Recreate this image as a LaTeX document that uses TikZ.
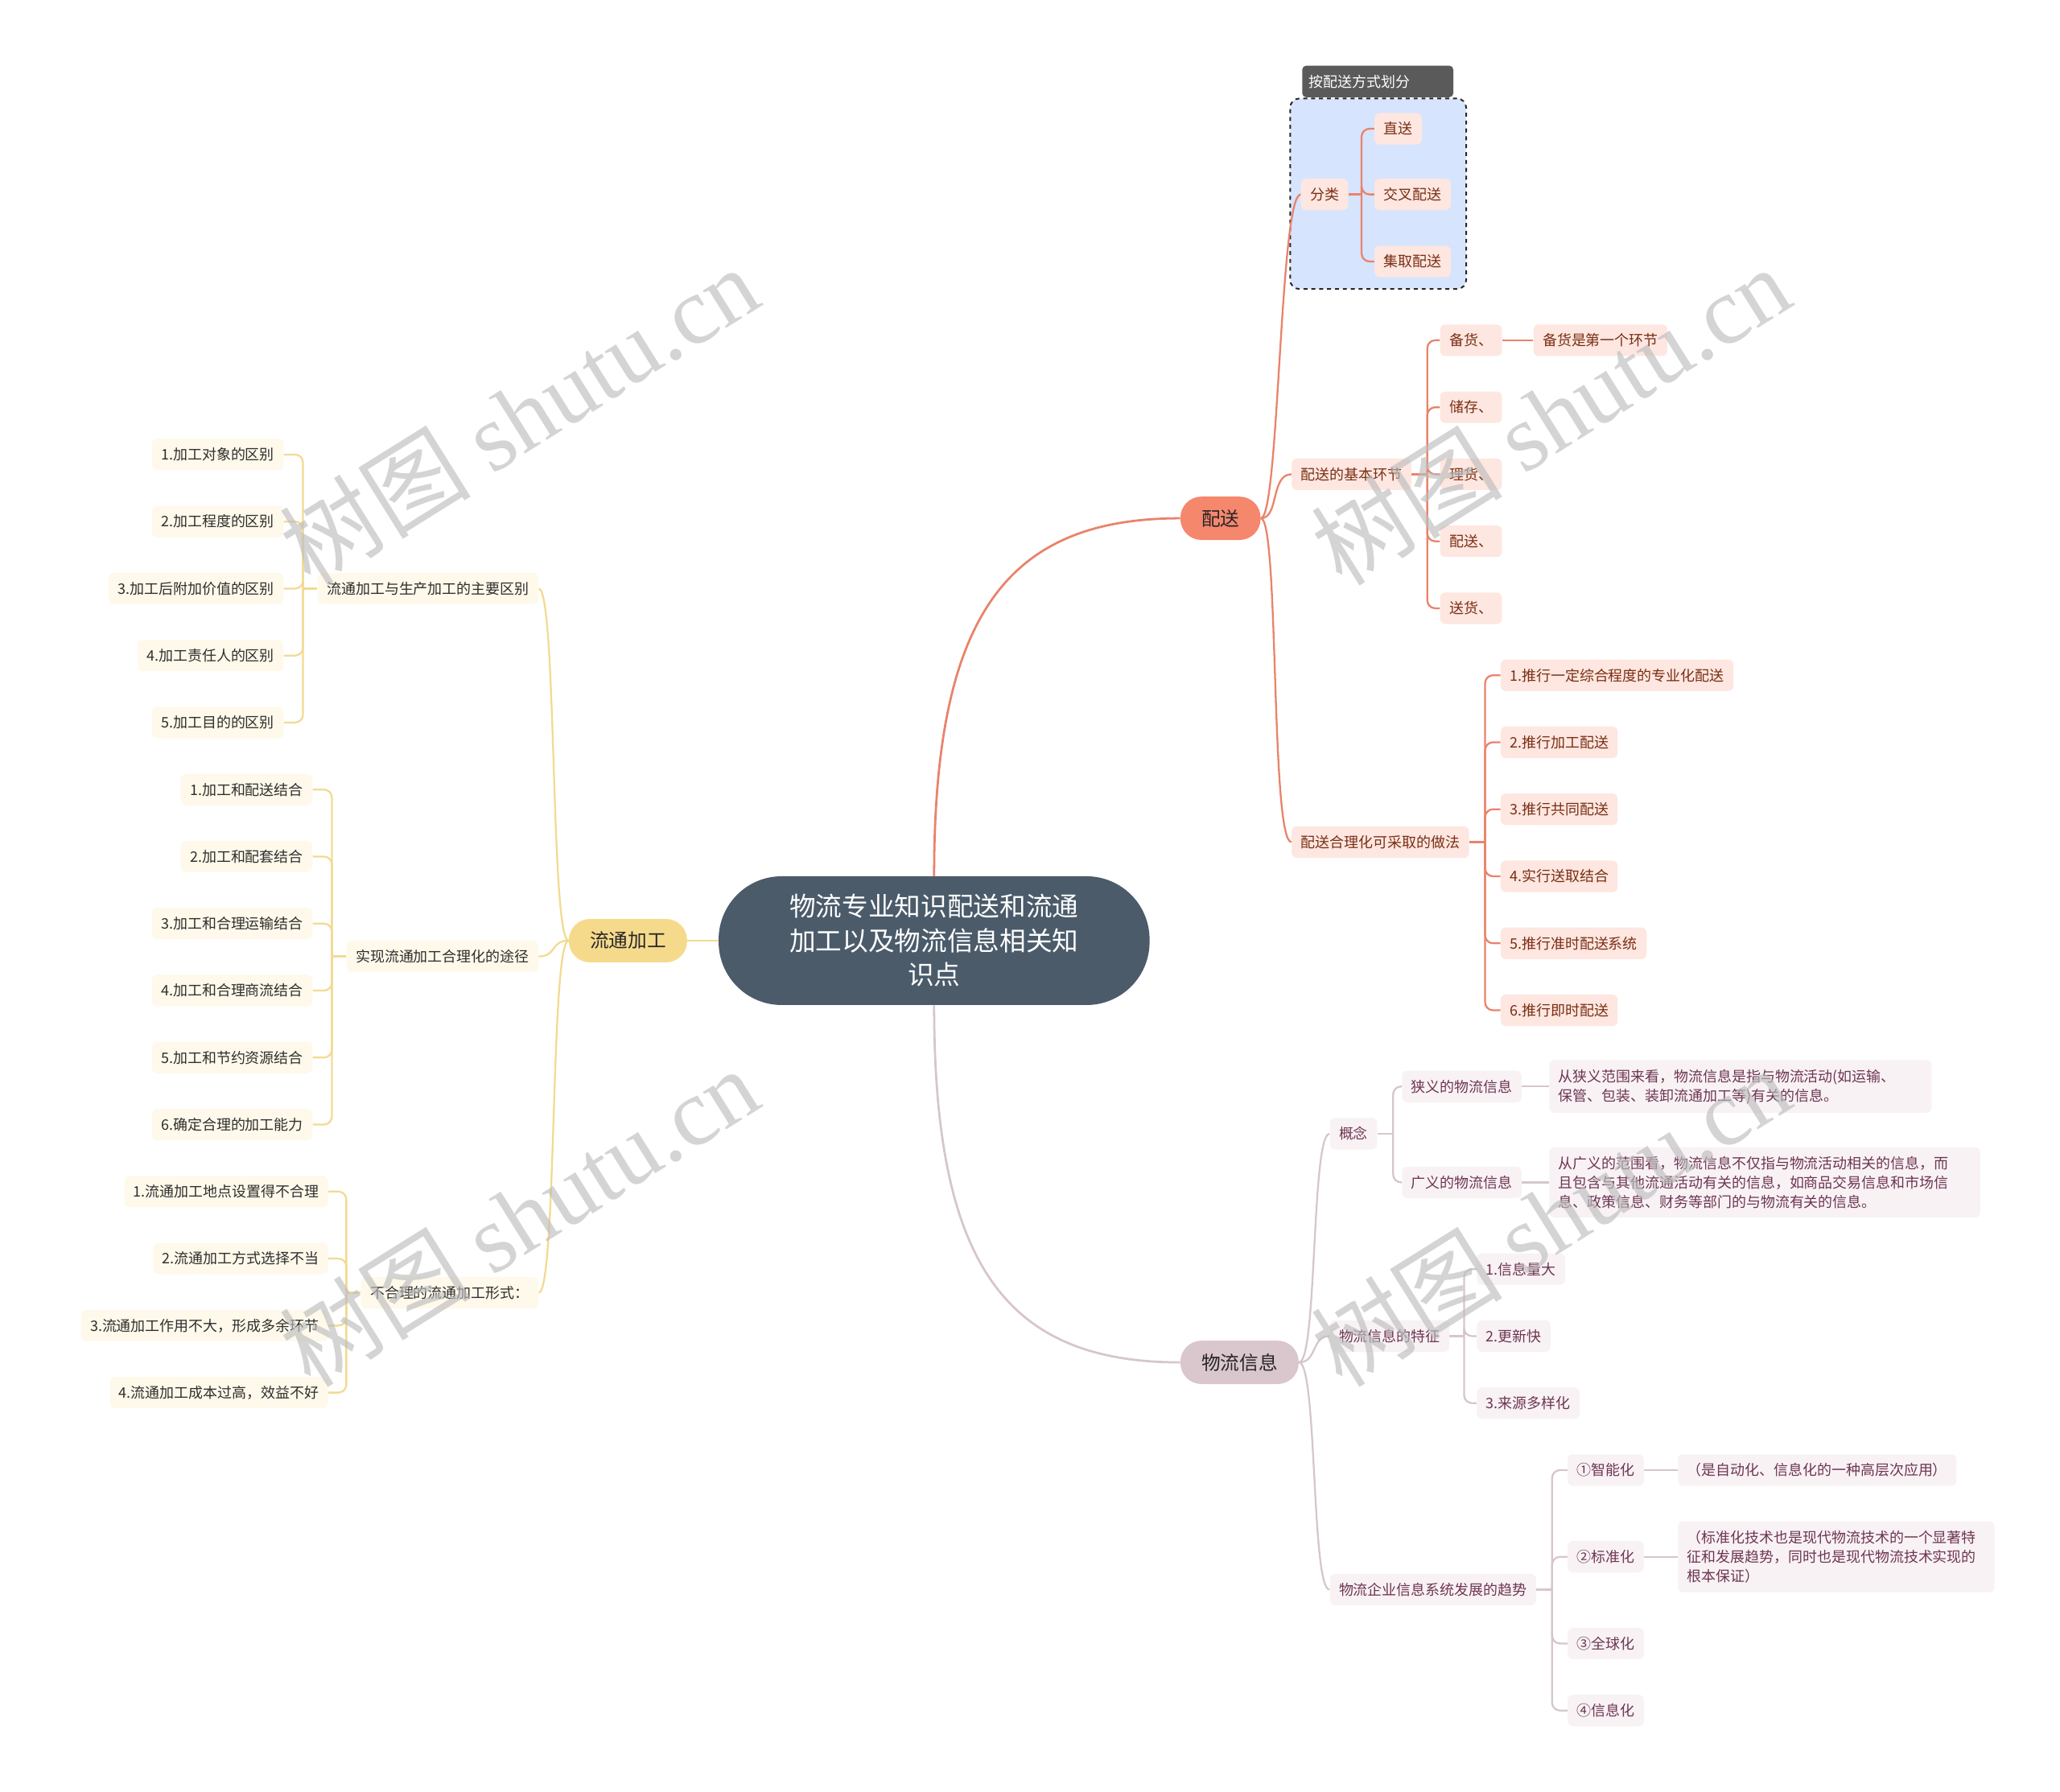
\documentclass[tikz,border=0pt]{standalone}
\usepackage{fontspec}
\setmainfont{Noto Sans CJK SC}
\newfontfamily\wmlatin{Liberation Serif}
\definecolor{centfill}{HTML}{4B5B6A}
\definecolor{psfill}{HTML}{F5876D}
\definecolor{ltfill}{HTML}{F6DA8C}
\definecolor{wlfill}{HTML}{DAC6CD}
\definecolor{pkfill}{HTML}{FDE7E0}
\definecolor{pktext}{HTML}{7A2E14}
\definecolor{pkline}{HTML}{E9836B}
\definecolor{ylfill}{HTML}{FEF9EA}
\definecolor{yltext}{HTML}{2E2E2E}
\definecolor{ylline}{HTML}{F3DA92}
\definecolor{mvfill}{HTML}{F8F2F4}
\definecolor{mvtext}{HTML}{6E3553}
\definecolor{mvline}{HTML}{D6C6CC}
\definecolor{grpfill}{HTML}{D6E4FE}
\definecolor{labfill}{HTML}{5A5A5A}
\definecolor{wmcol}{HTML}{BDBDBD}
\pgfdeclarelayer{back}
\pgfsetlayers{back,main}
\tikzset{
  leaf/.style={rounded corners=4pt, inner xsep=7pt, inner ysep=0pt, minimum height=24pt, font=\fontsize{11}{13}\selectfont},
  pkn/.style={leaf, fill=pkfill, text=pktext},
  yln/.style={leaf, fill=ylfill, text=yltext},
  mvn/.style={leaf, fill=mvfill, text=mvtext},
  para/.style={align=left, inner ysep=7pt, font=\fontsize{11}{14.7}\selectfont},
  pkl/.style={draw=pkline, line width=1.4pt},
  yll/.style={draw=ylline, line width=1.4pt},
  mvl/.style={draw=mvline, line width=1.4pt},
  elbow/.style={rounded corners=6pt},
  topic/.style={rounded corners=16pt, minimum height=33pt, inner xsep=16pt, inner ysep=0pt, font=\fontsize{14.5}{17}\selectfont, text=black!85},
  rootnode/.style={fill=centfill, text=white, rounded corners=48pt, minimum width=328pt, minimum height=98pt, align=center, font=\fontsize{20}{26}\selectfont},
  wm/.style={text=wmcol, text opacity=0.65, rotate=32, font=\fontsize{73}{75}\selectfont},
}
\begin{document}
\begin{tikzpicture}[x=1pt,y=-1pt]
\useasboundingbox (0,0) rectangle (1568,1364);

% ---------- root and main topics ----------
\node[rootnode] (root) at (711,716) {物流专业知识配送和流通\\加工以及物流信息相关知\\识点};
\node[topic, fill=psfill] (ps) at (929,394.5) {配送};
\node[topic, fill=ltfill] (lt) at (478,716) {流通加工};
\node[topic, fill=wlfill] (wl) at (943.5,1037) {物流信息};

% ---------- 配送 subtree ----------
\begin{pgfonlayer}{back}
\node (grp) [draw=black!85, dashed, line width=1.2pt, fill=grpfill, rounded corners=7pt, minimum width=134pt, minimum height=145pt] at (1049,147.5) {};
\end{pgfonlayer}
\node (glab) [fill=labfill, text=white, rounded corners=3pt, minimum height=24pt, inner xsep=5pt, inner ysep=0pt, text width=105pt, align=left, anchor=west, font=\fontsize{11}{13}\selectfont] at (991,62) {按配送方式划分};

\node[pkn, anchor=west] (fl) at (990,148) {分类};
\node[pkn, anchor=west] (zs) at (1046,98) {直送};
\node[pkn, anchor=west] (jc) at (1046,148) {交叉配送};
\node[pkn, anchor=west] (jq) at (1046,199) {集取配送};

\node[pkn, anchor=west] (jbhj) at (983,361) {配送的基本环节};
\node[pkn, anchor=west] (bh1) at (1096,259) {备货、};
\node[pkn, anchor=west] (cc) at (1096,310) {储存、};
\node[pkn, anchor=west] (lh) at (1096,361) {理货、};
\node[pkn, anchor=west] (pst) at (1096,412) {配送、};
\node[pkn, anchor=west] (sh) at (1096,463) {送货、};
\node[pkn, anchor=west] (bhd) at (1167,259) {备货是第一个环节};

\node[pkn, anchor=west] (hlh) at (983,641) {配送合理化可采取的做法};
\node[pkn, anchor=west] (h1) at (1142,514) {1.推行一定综合程度的专业化配送};
\node[pkn, anchor=west] (h2) at (1142,565) {2.推行加工配送};
\node[pkn, anchor=west] (h3) at (1142,616) {3.推行共同配送};
\node[pkn, anchor=west] (h4) at (1142,667) {4.实行送取结合};
\node[pkn, anchor=west] (h5) at (1142,718) {5.推行准时配送系统};
\node[pkn, anchor=west] (h6) at (1142,769) {6.推行即时配送};

% ---------- 流通加工 subtree ----------
\node[yln, anchor=east] (qb) at (410,448) {流通加工与生产加工的主要区别};
\node[yln, anchor=east] (qb1) at (216,346) {1.加工对象的区别};
\node[yln, anchor=east] (qb2) at (216,397) {2.加工程度的区别};
\node[yln, anchor=east] (qb3) at (216,448) {3.加工后附加价值的区别};
\node[yln, anchor=east] (qb4) at (216,499) {4.加工责任人的区别};
\node[yln, anchor=east] (qb5) at (216,550) {5.加工目的的区别};

\node[yln, anchor=east] (sx) at (410,728) {实现流通加工合理化的途径};
\node[yln, anchor=east] (sx1) at (238,601) {1.加工和配送结合};
\node[yln, anchor=east] (sx2) at (238,652) {2.加工和配套结合};
\node[yln, anchor=east] (sx3) at (238,703) {3.加工和合理运输结合};
\node[yln, anchor=east] (sx4) at (238,754) {4.加工和合理商流结合};
\node[yln, anchor=east] (sx5) at (238,805) {5.加工和节约资源结合};
\node[yln, anchor=east] (sx6) at (238,856) {6.确定合理的加工能力};

\node[yln, anchor=east] (bhl) at (410,984) {不合理的流通加工形式：};
\node[yln, anchor=east] (bl1) at (250,907) {1.流通加工地点设置得不合理};
\node[yln, anchor=east] (bl2) at (250,958) {2.流通加工方式选择不当};
\node[yln, anchor=east] (bl3) at (250,1009) {3.流通加工作用不大，形成多余环节};
\node[yln, anchor=east] (bl4) at (250,1060) {4.流通加工成本过高，效益不好};

% ---------- 物流信息 subtree ----------
\node[mvn, anchor=west] (gn) at (1012,863) {概念};
\node[mvn, anchor=west] (xy) at (1067,827) {狭义的物流信息};
\node[mvn, anchor=west] (gy) at (1067,900) {广义的物流信息};
\node[mvn, para, anchor=west, text width=277pt] (xyd) at (1179,827) {从狭义范围来看，物流信息是指与物流活动(如运输、\\保管、包装、装卸流通加工等)有关的信息。};
\node[mvn, para, anchor=west, text width=314pt] (gyd) at (1179,900) {从广义的范围看，物流信息不仅指与物流活动相关的信息，而\\且包含与其他流通活动有关的信息，如商品交易信息和市场信\\息、政策信息、财务等部门的与物流有关的信息。};

\node[mvn, anchor=west] (tz) at (1012,1017) {物流信息的特征};
\node[mvn, anchor=west] (tz1) at (1124,966) {1.信息量大};
\node[mvn, anchor=west] (tz2) at (1124,1017) {2.更新快};
\node[mvn, anchor=west] (tz3) at (1124,1068) {3.来源多样化};

\node[mvn, anchor=west] (qs) at (1012,1210) {物流企业信息系统发展的趋势};
\node[mvn, anchor=west] (qs1) at (1193,1119) {①智能化};
\node[mvn, anchor=west] (qs2) at (1193,1185) {②标准化};
\node[mvn, anchor=west] (qs3) at (1193,1251) {③全球化};
\node[mvn, anchor=west] (qs4) at (1193,1302) {④信息化};
\node[mvn, anchor=west] (qs1d) at (1277,1119) {（是自动化、信息化的一种高层次应用）};
\node[mvn, para, anchor=west, text width=227pt] (qs2d) at (1277,1185) {（标准化技术也是现代物流技术的一个显著特\\征和发展趋势，同时也是现代物流技术实现的\\根本保证）};

% ---------- connectors ----------
\begin{pgfonlayer}{back}
\draw[pkl, line width=1.7pt] (root.north) .. controls (711,470) and (765,394.5) .. (ps.west);
\draw[mvl, line width=1.7pt] (root.south) .. controls (711,962) and (765,1037) .. (wl.west);
\draw[yll, line width=1.7pt] (root.west) -- (lt.east);

\foreach \c in {fl,jbhj,hlh}
  \draw[pkl] (ps.east) .. controls +(14,0) and +(-16,0) .. (\c.west);
\foreach \c in {qb,sx,bhl}
  \draw[yll] (lt.west) .. controls +(-14,0) and +(14,0) .. (\c.east);
\foreach \c in {gn,tz,qs}
  \draw[mvl] (wl.east) .. controls +(14,0) and +(-14,0) .. (\c.west);

\draw[pkl] (fl.east) -- ++(10,0) coordinate (flT);
\foreach \c in {zs,jc,jq} \draw[pkl, elbow] (flT) |- (\c.west);
\draw[pkl] (jbhj.east) -- ++(12,0) coordinate (jbT);
\foreach \c in {bh1,cc,lh,pst,sh} \draw[pkl, elbow] (jbT) |- (\c.west);
\draw[pkl] (bh1.east) -- (bhd.west);
\draw[pkl] (hlh.east) -- ++(12,0) coordinate (hlT);
\foreach \c in {h1,h2,h3,h4,h5,h6} \draw[pkl, elbow] (hlT) |- (\c.west);

\draw[yll] (qb.west) -- ++(-11,0) coordinate (qbT);
\foreach \c in {qb1,qb2,qb3,qb4,qb5} \draw[yll, elbow] (qbT) |- (\c.east);
\draw[yll] (sx.west) -- ++(-11,0) coordinate (sxT);
\foreach \c in {sx1,sx2,sx3,sx4,sx5,sx6} \draw[yll, elbow] (sxT) |- (\c.east);
\draw[yll] (bhl.west) -- ++(-11,0) coordinate (bhT);
\foreach \c in {bl1,bl2,bl3,bl4} \draw[yll, elbow] (bhT) |- (\c.east);

\draw[mvl] (gn.east) -- ++(12,0) coordinate (gnT);
\foreach \c in {xy,gy} \draw[mvl, elbow] (gnT) |- (\c.west);
\draw[mvl] (xy.east) -- (xyd.west);
\draw[mvl] (gy.east) -- (gyd.west);
\draw[mvl] (tz.east) -- ++(11,0) coordinate (tzT);
\foreach \c in {tz1,tz2,tz3} \draw[mvl, elbow] (tzT) |- (\c.west);
\draw[mvl] (qs.east) -- ++(12,0) coordinate (qsT);
\foreach \c in {qs1,qs2,qs3,qs4} \draw[mvl, elbow] (qsT) |- (\c.west);
\draw[mvl] (qs1.east) -- (qs1d.west);
\draw[mvl] (qs2.east) -- (qs2d.west);
\end{pgfonlayer}

% ---------- watermarks ----------
\foreach \p [count=\i] in {(395,316),(1180,316),(395,926),(1180,926)}
  \node[wm] (wm\i) at \p {树图 {\wmlatin shutu.cn}};
\end{tikzpicture}
\end{document}
